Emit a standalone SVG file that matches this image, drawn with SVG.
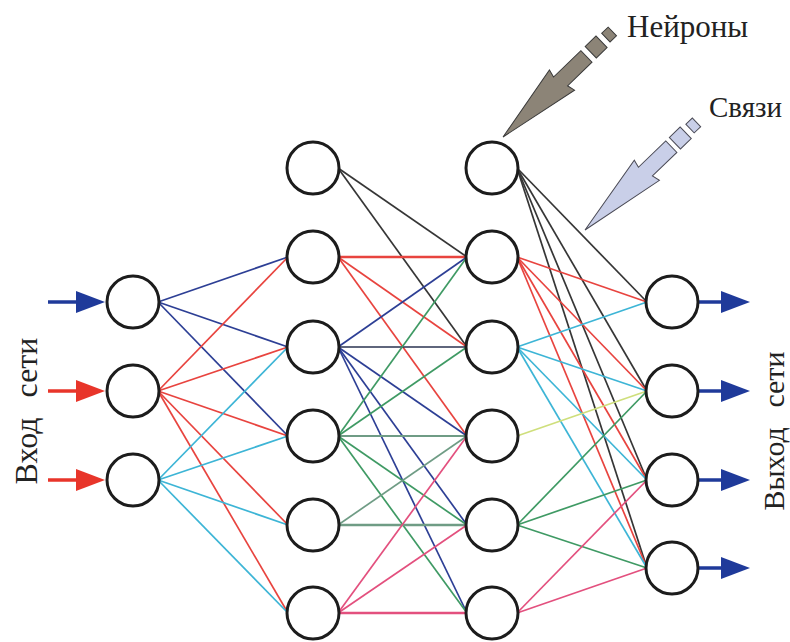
<svg xmlns="http://www.w3.org/2000/svg" width="790" height="642" viewBox="0 0 790 642">
<style>
.n{fill:#fff;stroke:#1c1c1c;stroke-width:3}
.e{fill:none;stroke-width:1.7}
.bl{stroke:#2d3f95}.rd{stroke:#e8443f}.cy{stroke:#3db5d6}.dk{stroke:#363636}
.gr{stroke:#3f9a64}.gg{stroke:#6f9c85}.pk{stroke:#e3507e}.yl{stroke:#cfdf7c}
.lbl{font-family:"Liberation Serif","Times New Roman",serif;fill:#222}
.ar{stroke-width:3.5;fill:none}
</style>
<rect width="790" height="642" fill="#fff"/>
<g id="connectors">
<!-- input -> hidden1 -->
<line class="e bl" x1="158" y1="302" x2="288" y2="257"/>
<line class="e bl" x1="158" y1="302" x2="288" y2="347"/>
<line class="e bl" x1="158" y1="302" x2="288" y2="436"/>
<line class="e rd" x1="158" y1="391" x2="288" y2="257"/>
<line class="e rd" x1="158" y1="391" x2="288" y2="347"/>
<line class="e rd" x1="158" y1="391" x2="288" y2="436"/>
<line class="e rd" x1="158" y1="391" x2="288" y2="525"/>
<line class="e rd" x1="158" y1="391" x2="288" y2="613"/>
<line class="e cy" x1="158" y1="480" x2="288" y2="347"/>
<line class="e cy" x1="158" y1="480" x2="288" y2="436"/>
<line class="e cy" x1="158" y1="480" x2="288" y2="525"/>
<line class="e cy" x1="158" y1="480" x2="288" y2="613"/>
<!-- hidden1 -> hidden2 -->
<line class="e dk" x1="338" y1="168" x2="467" y2="257"/>
<line class="e dk" x1="338" y1="168" x2="467" y2="347"/>
<line class="e rd" x1="338" y1="257" x2="467" y2="257" style="stroke-width:2.4"/>
<line class="e rd" x1="338" y1="257" x2="467" y2="347"/>
<line class="e rd" x1="338" y1="257" x2="467" y2="436"/>
<line class="e bl" x1="338" y1="347" x2="467" y2="257"/>
<line class="e dk" x1="338" y1="347" x2="467" y2="347" style="stroke:#2a3350"/>
<line class="e bl" x1="338" y1="347" x2="467" y2="436"/>
<line class="e bl" x1="338" y1="347" x2="467" y2="525"/>
<line class="e bl" x1="338" y1="347" x2="467" y2="613"/>
<line class="e gr" x1="338" y1="436" x2="467" y2="257"/>
<line class="e gr" x1="338" y1="436" x2="467" y2="347"/>
<line class="e gg" x1="338" y1="436" x2="467" y2="436" style="stroke-width:2.2"/>
<line class="e gr" x1="338" y1="436" x2="467" y2="525"/>
<line class="e gr" x1="338" y1="436" x2="467" y2="613"/>
<line class="e gg" x1="338" y1="525" x2="467" y2="436"/>
<line class="e gg" x1="338" y1="525" x2="467" y2="525" style="stroke-width:2.4"/>
<line class="e pk" x1="338" y1="613" x2="467" y2="436"/>
<line class="e pk" x1="338" y1="613" x2="467" y2="525"/>
<line class="e pk" x1="338" y1="613" x2="467" y2="613" style="stroke-width:2.4"/>
<!-- hidden2 -> output -->
<line class="e dk" x1="517" y1="168" x2="647" y2="302"/>
<line class="e dk" x1="517" y1="168" x2="647" y2="391"/>
<line class="e dk" x1="517" y1="168" x2="647" y2="480"/>
<line class="e dk" x1="517" y1="168" x2="647" y2="568"/>
<line class="e rd" x1="517" y1="257" x2="647" y2="302"/>
<line class="e rd" x1="517" y1="257" x2="647" y2="391"/>
<line class="e rd" x1="517" y1="257" x2="647" y2="480"/>
<line class="e rd" x1="517" y1="257" x2="647" y2="568"/>
<line class="e cy" x1="517" y1="347" x2="647" y2="302"/>
<line class="e cy" x1="517" y1="347" x2="647" y2="391"/>
<line class="e cy" x1="517" y1="347" x2="647" y2="480"/>
<line class="e cy" x1="517" y1="347" x2="647" y2="568"/>
<line class="e yl" x1="517" y1="436" x2="647" y2="391"/>
<line class="e gr" x1="517" y1="525" x2="647" y2="391"/>
<line class="e gr" x1="517" y1="525" x2="647" y2="480"/>
<line class="e gr" x1="517" y1="525" x2="647" y2="568"/>
<line class="e pk" x1="517" y1="613" x2="647" y2="480"/>
<line class="e pk" x1="517" y1="613" x2="647" y2="568"/>
<!-- input arrows -->
<line class="ar" x1="48" y1="302" x2="82" y2="302" stroke="#1f3a9a"/>
<polygon points="76,291 105,302 76,313" fill="#1f3a9a"/>
<line class="ar" x1="48" y1="391" x2="82" y2="391" stroke="#e8352a"/>
<polygon points="76,380 105,391 76,402" fill="#e8352a"/>
<line class="ar" x1="48" y1="480" x2="82" y2="480" stroke="#e8352a"/>
<polygon points="76,469 105,480 76,491" fill="#e8352a"/>
<!-- output arrows -->
<line class="ar" x1="698" y1="302" x2="726" y2="302" stroke="#1f3a9a"/>
<polygon points="721,291 750,302 721,313" fill="#1f3a9a"/>
<line class="ar" x1="698" y1="391" x2="726" y2="391" stroke="#1f3a9a"/>
<polygon points="721,380 750,391 721,402" fill="#1f3a9a"/>
<line class="ar" x1="698" y1="480" x2="726" y2="480" stroke="#1f3a9a"/>
<polygon points="721,469 750,480 721,491" fill="#1f3a9a"/>
<line class="ar" x1="698" y1="568" x2="726" y2="568" stroke="#1f3a9a"/>
<polygon points="721,557 750,568 721,579" fill="#1f3a9a"/>
</g>
<g id="input">
<circle id="in1" class="n" cx="133" cy="302" r="26"/>
<circle id="in2" class="n" cx="133" cy="391" r="26"/>
<circle id="in3" class="n" cx="133" cy="480" r="26"/>
</g>
<g id="hidden1">
<circle id="h1_1" class="n" cx="313" cy="168" r="26"/>
<circle id="h1_2" class="n" cx="313" cy="257" r="26"/>
<circle id="h1_3" class="n" cx="313" cy="347" r="26"/>
<circle id="h1_4" class="n" cx="313" cy="436" r="26"/>
<circle id="h1_5" class="n" cx="313" cy="525" r="26"/>
<circle id="h1_6" class="n" cx="313" cy="613" r="26"/>
</g>
<g id="hidden2">
<circle id="h2_1" class="n" cx="492" cy="168" r="26"/>
<circle id="h2_2" class="n" cx="492" cy="257" r="26"/>
<circle id="h2_3" class="n" cx="492" cy="347" r="26"/>
<circle id="h2_4" class="n" cx="492" cy="436" r="26"/>
<circle id="h2_5" class="n" cx="492" cy="525" r="26"/>
<circle id="h2_6" class="n" cx="492" cy="613" r="26"/>
</g>
<g id="output">
<circle id="out1" class="n" cx="672" cy="302" r="26"/>
<circle id="out2" class="n" cx="672" cy="391" r="26"/>
<circle id="out3" class="n" cx="672" cy="480" r="26"/>
<circle id="out4" class="n" cx="672" cy="568" r="26"/>
</g>
<g id="neurons-pointer" transform="translate(503,137) rotate(-44)" stroke="#3a3a3a" stroke-width="1" fill="#8c8477">
<polygon points="0,0 80,-16 78,-8 116,-8 116,8 82,8 84,16"/>
<rect x="122" y="-8" width="15" height="16"/>
<rect x="143" y="-6" width="9" height="12"/>
</g>
<g id="links-pointer" transform="translate(585,230) rotate(-44)" stroke="#4a4a55" stroke-width="1" fill="#c9cfe8">
<polygon points="0,0 84,-16 82,-8 120,-8 120,8 86,8 88,16"/>
<rect x="125" y="-8" width="15" height="16"/>
<rect x="146" y="-6" width="9" height="12"/>
</g>
<g id="labels">
<text class="lbl" x="627" y="37" font-size="31">Нейроны</text>
<text class="lbl" x="709" y="117" font-size="29">Связи</text>
<text class="lbl" font-size="32" text-anchor="middle" word-spacing="12" transform="translate(37,411) rotate(-90)">Вход сети</text>
<text class="lbl" font-size="30" text-anchor="middle" word-spacing="12" transform="translate(784,431) rotate(-90)">Выход сети</text>
</g>
</svg>
